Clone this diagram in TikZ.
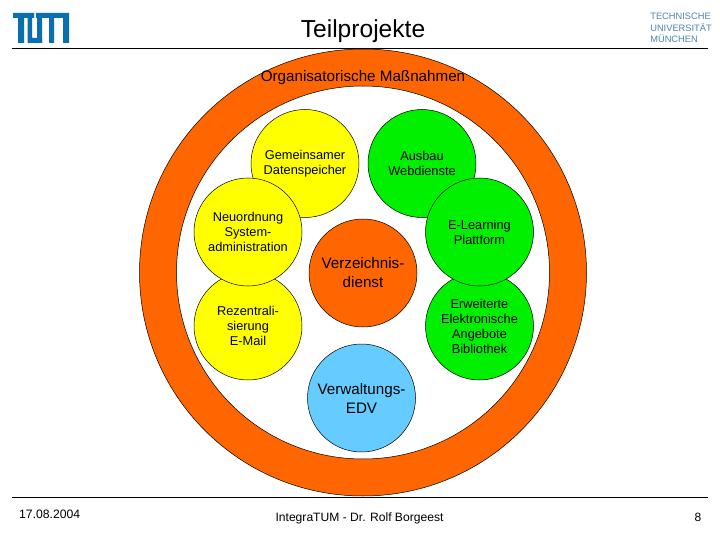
\documentclass[tikz,border=0pt]{standalone}
\usepackage{fontspec}
\setmainfont{Liberation Sans}
\definecolor{ringor}{HTML}{FF6600}
\definecolor{yel}{HTML}{FFFF00}
\definecolor{grn}{HTML}{00F000}
\definecolor{sky}{HTML}{66CCFF}
\definecolor{tumblue}{HTML}{0A6FB0}
\definecolor{unitext}{HTML}{4F86AC}
\tikzset{
  disc/.style={circle,draw=black,line width=0.5pt,minimum size=108pt,inner sep=0pt,align=center,font=\fontsize{12.8}{15}\selectfont},
  bigdisc/.style={disc,font=\fontsize{15.2}{19}\selectfont},
  rulel/.style={line width=0.9pt,black}
}
\begin{document}
\begin{tikzpicture}[x=1pt,y=-1pt]
\useasboundingbox (0,0) rectangle (720,540);
\fill[white] (0,0) rectangle (720,540);
% logo
\fill[tumblue] (13,13) rectangle (34,18) (18,13) rectangle (24,43);
\fill[tumblue] (27.5,18) rectangle (32,43) (27.5,38) rectangle (42,43);
\fill[tumblue] (36,13) rectangle (69,18) (37,13) rectangle (42,43) (49,13) rectangle (54,43) (63,13) rectangle (69,43);
\node[anchor=east,align=left,text=unitext,font=\fontsize{9.3}{11.5}\selectfont,inner sep=0pt] (uni) at (712,28) {TECHNISCHE\\UNIVERSITÄT\\MÜNCHEN};
% title
\node[font=\fontsize{24.6}{28}\selectfont,inner sep=0pt] (title) at (363,31) {Teilprojekte};
\coordinate (tl) at (12,48); \coordinate (tr) at (708,48);
\draw[rulel] (tl) -- (tr);
\coordinate (bl) at (12,497); \coordinate (br) at (708,497);
% ring
\fill[ringor,draw=black,line width=0.5pt,even odd rule] (363,272.5) circle[radius=223.5] (363,272.5) circle[radius=186.5];
\draw[rulel] (bl) -- (br);
\node[font=\fontsize{15.2}{18}\selectfont,inner sep=0pt] (org) at (363,77.5) {Organisatorische Maßnahmen};
% discs
\node[disc,fill=yel] (gem) at (305,163.5) {Gemeinsamer\\Datenspeicher};
\node[disc,fill=yel] (rez) at (248,326) {Rezentrali-\\sierung\\E-Mail};
\node[disc,fill=yel] (neu) at (248,232) {Neuordnung\\System-\\administration};
\node[disc,fill=grn] (aus) at (422,163.5) {Ausbau\\Webdienste};
\node[disc,fill=grn] (erw) at (479.5,326) {Erweiterte\\Elektronische\\Angebote\\Bibliothek};
\node[disc,fill=grn] (ele) at (479.5,232) {E-Learning\\Plattform};
\node[bigdisc,fill=ringor] (ver) at (363,273) {Verzeichnis-\\dienst};
\node[bigdisc,fill=sky] (edv) at (361.5,398) {Verwaltungs-\\EDV};
% footer
\node[anchor=west,font=\fontsize{12.2}{14}\selectfont,inner sep=0pt] (date) at (19,514.5) {17.08.2004};
\node[font=\fontsize{12.1}{14}\selectfont,inner sep=0pt] (foot) at (359.5,518) {IntegraTUM - Dr. Rolf Borgeest};
\node[font=\fontsize{12}{14}\selectfont,inner sep=0pt] (pg) at (698,517) {8};
\end{tikzpicture}
\end{document}
